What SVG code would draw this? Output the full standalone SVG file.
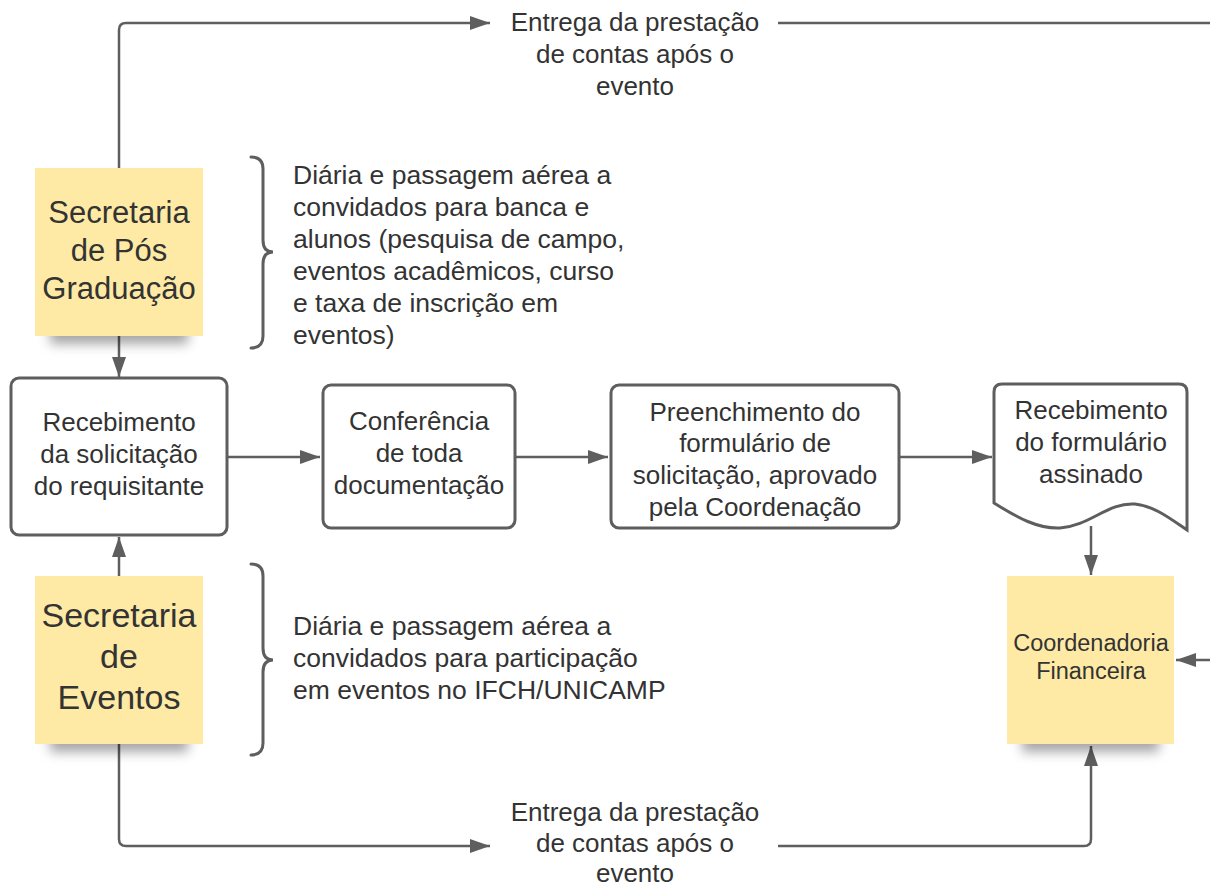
<svg xmlns="http://www.w3.org/2000/svg" width="1210" height="888" viewBox="0 0 1210 888">
<defs>
<marker id="arr" viewBox="0 0 20 14" refX="20" refY="7" markerWidth="20" markerHeight="14" markerUnits="userSpaceOnUse" orient="auto">
<path d="M0,0 L20,7 L0,14 Z" fill="#5e5e5e"/>
</marker>
<filter id="blur" x="-30%" y="-100%" width="160%" height="300%">
<feGaussianBlur stdDeviation="6"/>
</filter>
<style>
.t{font-family:"Liberation Sans",Arial,sans-serif;fill:#333333;}
.c{text-anchor:middle;}
.box{fill:#fff;stroke:#5e5e5e;stroke-width:3;}
.note{fill:#feeaa5;}
.shd{fill:#000;fill-opacity:0.35;filter:url(#blur);}
.ln{fill:none;stroke:#5e5e5e;stroke-width:2.5;}
.br{fill:none;stroke:#5e5e5e;stroke-width:3;stroke-linecap:round;}
</style>
</defs>
<rect width="1210" height="888" fill="#fff"/>

<g id="connectors">
<path class="ln" d="M119,168 L119,30 Q119,23 126,23 L490,23" marker-end="url(#arr)"/>
<path class="ln" d="M778,23 L1210,23"/>
<path class="ln" d="M119,336 L119,377" marker-end="url(#arr)"/>
<path class="ln" d="M119,576 L119,537" marker-end="url(#arr)"/>
<path class="ln" d="M227,457 L320,457" marker-end="url(#arr)"/>
<path class="ln" d="M515,457 L608,457" marker-end="url(#arr)"/>
<path class="ln" d="M899,457 L992,457" marker-end="url(#arr)"/>
<path class="ln" d="M1091,526 L1091,575" marker-end="url(#arr)"/>
<path class="ln" d="M1210,660 L1176,660" marker-end="url(#arr)"/>
<path class="ln" d="M119,744 L119,839 Q119,846 126,846 L490,846" marker-end="url(#arr)"/>
<path class="ln" d="M778,846 L1084,846 Q1091,846 1091,839 L1091,746" marker-end="url(#arr)"/>
</g>

<g id="sec-pos">
<rect class="shd" x="50" y="322" width="138" height="22"/>
<rect class="note" x="35" y="168" width="168" height="168"/>
<text class="t c" font-size="31" x="119" y="223">Secretaria</text>
<text class="t c" font-size="31" x="119" y="261">de Pós</text>
<text class="t c" font-size="31" x="119" y="299">Graduação</text>
</g>

<g id="sec-eventos">
<rect class="shd" x="50" y="730" width="138" height="22"/>
<rect class="note" x="35" y="576" width="168" height="168"/>
<text class="t c" font-size="34" x="119" y="627">Secretaria</text>
<text class="t c" font-size="34" x="119" y="668">de</text>
<text class="t c" font-size="34" x="119" y="709">Eventos</text>
</g>

<g id="coord-fin">
<rect class="shd" x="1022" y="730" width="137" height="22"/>
<rect class="note" x="1007" y="576" width="167" height="168"/>
<text class="t c" font-size="23.5" x="1091" y="651">Coordenadoria</text>
<text class="t c" font-size="23.5" x="1091" y="679">Financeira</text>
</g>

<g id="recebimento-solicitacao">
<rect class="box" x="11" y="378" width="216" height="157" rx="8"/>
<text class="t c" font-size="26" x="119" y="431">Recebimento</text>
<text class="t c" font-size="26" x="119" y="463">da solicitação</text>
<text class="t c" font-size="26" x="119" y="495">do requisitante</text>
</g>

<g id="conferencia">
<rect class="box" x="323" y="385" width="192" height="143" rx="8"/>
<text class="t c" font-size="26" x="419" y="430">Conferência</text>
<text class="t c" font-size="26" x="419" y="462">de toda</text>
<text class="t c" font-size="26" x="419" y="494">documentação</text>
</g>

<g id="preenchimento">
<rect class="box" x="611" y="385" width="288" height="143" rx="8"/>
<text class="t c" font-size="26" x="755" y="421">Preenchimento do</text>
<text class="t c" font-size="26" x="755" y="452">formulário de</text>
<text class="t c" font-size="26" x="755" y="484">solicitação, aprovado</text>
<text class="t c" font-size="26" x="755" y="516">pela Coordenação</text>
</g>

<g id="recebimento-formulario">
<path class="box" d="M994,503 C1018,518 1038,529 1060,528 C1090,526 1108,502 1135,504 C1155,506 1172,520 1187,530 L1187,392 Q1187,384 1179,384 L1002,384 Q994,384 994,392 Z"/>
<text class="t c" font-size="26" x="1091" y="419">Recebimento</text>
<text class="t c" font-size="26" x="1091" y="451">do formulário</text>
<text class="t c" font-size="26" x="1091" y="483">assinado</text>
</g>

<g id="brace-pos">
<path class="br" d="M251,157 Q263,157 263,169 L263,240 Q263,252 273,252 Q263,252 263,264 L263,336 Q263,348 251,348"/>
<text class="t" font-size="26.5" x="293" y="184">Diária e passagem aérea a</text>
<text class="t" font-size="26.5" x="293" y="216">convidados para banca e</text>
<text class="t" font-size="26.5" x="293" y="248">alunos (pesquisa de campo,</text>
<text class="t" font-size="26.5" x="293" y="280">eventos acadêmicos, curso</text>
<text class="t" font-size="26.5" x="293" y="312">e taxa de inscrição em</text>
<text class="t" font-size="26.5" x="293" y="344">eventos)</text>
</g>

<g id="brace-eventos">
<path class="br" d="M251,564 Q263,564 263,576 L263,648 Q263,660 273,660 Q263,660 263,672 L263,743 Q263,755 251,755"/>
<text class="t" font-size="26.5" x="293" y="635">Diária e passagem aérea a</text>
<text class="t" font-size="26.5" x="293" y="667">convidados para participação</text>
<text class="t" font-size="26.5" x="293" y="699">em eventos no IFCH/UNICAMP</text>
</g>

<g id="label-top">
<text class="t c" font-size="26" x="635" y="31">Entrega da prestação</text>
<text class="t c" font-size="26" x="635" y="63">de contas após o</text>
<text class="t c" font-size="26" x="635" y="95">evento</text>
</g>

<g id="label-bottom">
<text class="t c" font-size="26" x="635" y="821">Entrega da prestação</text>
<text class="t c" font-size="26" x="635" y="852">de contas após o</text>
<text class="t c" font-size="26" x="635" y="882">evento</text>
</g>
</svg>
